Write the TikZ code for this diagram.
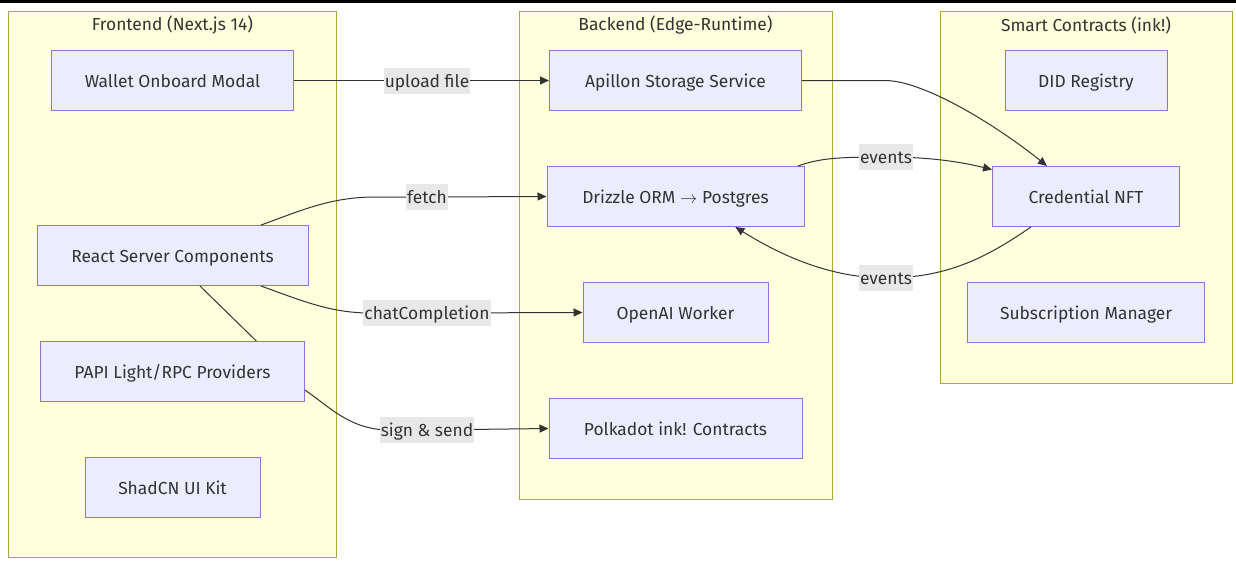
\documentclass[tikz,border=0pt]{standalone}
\usepackage{fontspec}
\setmainfont{Fira Sans}
\usepackage{xcolor}
\usepackage{tikz}
\usetikzlibrary{arrows.meta, positioning}

\definecolor{grpfill}{HTML}{FFFFDE}
\definecolor{grpline}{HTML}{AAAA33}
\definecolor{boxfill}{HTML}{ECECFF}
\definecolor{boxline}{HTML}{9370DB}
\definecolor{ink}{HTML}{333333}
\definecolor{lblfill}{HTML}{E8E8E8}

\begin{document}
\begin{tikzpicture}[x=1pt, y=-1pt, node distance=55pt, >={Triangle[length=9pt, width=8pt]}, font=\fontsize{17.4}{21}\selectfont]
        % Styles for groups, boxes and arrows
        \tikzstyle{group} = [rectangle, draw=grpline, fill=grpfill, line width=1pt, anchor=north west, inner sep=0pt]
        \tikzstyle{title} = [text=ink, inner sep=0pt]
        \tikzstyle{box} = [rectangle, draw=boxline, fill=boxfill, line width=1pt, minimum height=60pt, text=ink, inner sep=0pt, text height=16pt, text depth=3pt]
        \tikzstyle{elabel} = [fill=lblfill, text=ink, inner xsep=1pt, inner ysep=0pt, minimum height=26pt, text height=16pt, text depth=3pt]
        \tikzstyle{arrow} = [draw=ink, line width=1pt, ->]
        \tikzstyle{link} = [draw=ink, line width=1pt]

        \useasboundingbox (0,0) rectangle (1236,566);
        \fill[black] (0,0) rectangle (1236,3);

        % Groups
        \node[group, minimum width=328pt, minimum height=546pt] (fe) at (8,11) {};
        \node[group, minimum width=313pt, minimum height=488pt] (be) at (519,11) {};
        \node[group, minimum width=292pt, minimum height=372pt] (sc) at (940,11) {};
        \node[title] (fet) at (172.5,25) {Frontend (Next.js 14)};
        \node[title] (bet) at (675.5,25) {Backend (Edge-Runtime)};
        \node[title] (sct) at (1086,25) {Smart Contracts (ink!)};

        % Frontend
        \node[box, minimum width=242pt] (wom) at (172.5,80.5) {Wallet Onboard Modal};
        \node[box, minimum width=271pt] (rsc) at (172.5,255.5) {React Server Components};
        \node[box, minimum width=264pt, below=of rsc] (papi) {PAPI Light/RPC Providers};
        \node[box, minimum width=175pt, below=of papi] (shad) {ShadCN UI Kit};

        % Backend
        \node[box, minimum width=252pt] (aps) at (675.5,80.5) {Apillon Storage Service};
        \node[box, minimum width=257pt, below=of aps] (dri) {Drizzle ORM $\rightarrow$ Postgres};
        \node[box, minimum width=185pt, below=of dri] (ow) {OpenAI Worker};
        \node[box, minimum width=253pt, below=of ow] (pol) {Polkadot ink! Contracts};

        % Smart contracts
        \node[box, minimum width=162pt] (did) at (1086,80.5) {DID Registry};
        \node[box, minimum width=187pt, below=of did] (cre) {Credential NFT};
        \node[box, minimum width=237pt, below=of cre] (sub) {Subscription Manager};

        % Edges
        \draw[arrow] (wom.east) -- (427,80.5) node[elabel] (lupl) {upload file} -- (aps.west);
        \draw[arrow] (rsc.19.6) .. controls (300,211) and (330,197) .. (375,197) -- (427,197) node[elabel] (lfet) {fetch} -- (dri.west);
        \draw[arrow] (rsc.-19.6) .. controls (300,300) and (330,313) .. (370,313) -- (427,313) node[elabel] (lchat) {chatCompletion} -- (ow.west);
        \draw[link] (rsc.-48) -- (papi.20.5);
        \draw[arrow] (papi.-8) .. controls (330,407) and (350,430) .. (390,430) -- (427,430) node[elabel] (lsig) {sign \& send} -- (pol.west);
        \draw[arrow] (aps.east) -- (885,80.5) .. controls (925,80.5) and (1000,128) .. (cre.142.4);
        \draw[arrow] (dri.14.3) .. controls (820,158) and (840,157) .. (886,157) node[elabel] (lev1) {events} .. controls (935,157) and (965,163) .. (cre.164.5);
        \draw[arrow] (cre.209.5) .. controls (990,255) and (950,278) .. (886,278) node[elabel] (lev2) {events} .. controls (830,278) and (780,255) .. (dri.-27.4);

\end{tikzpicture}
\end{document}
